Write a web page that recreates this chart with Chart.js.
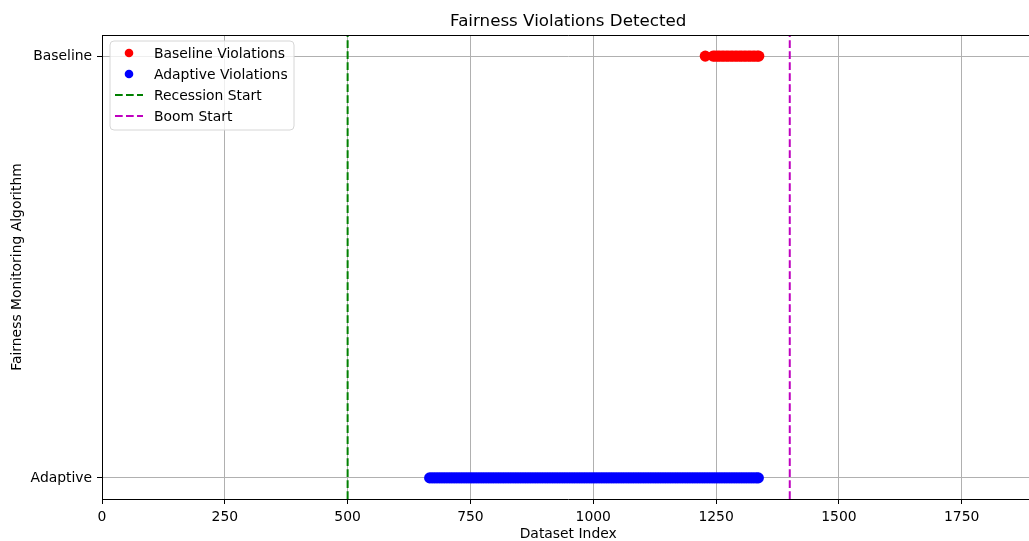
<!DOCTYPE html>
<html><head><meta charset="utf-8">
<script src="https://cdn.jsdelivr.net/npm/chart.js@4/dist/chart.umd.min.js"></script>
<style>html,body{margin:0;padding:0;overflow:hidden;background:#fff}#wrap{width:1040px;height:541px}</style>
</head><body><div id="wrap"><canvas id="c"></canvas></div>
<script>
const chartTitle = 'Fairness Violations Detected';
const xTitle = 'Dataset Index';
const yTitle = 'Fairness Monitoring Algorithm';
const yCategories = ['Adaptive', 'Baseline'];
const xTicks = [0, 250, 500, 750, 1000, 1250, 1500, 1750];
const baselineViolations = [1228,1244,1248,1253,1257,1262,1266,1271,1275,1280,1284,1289,1293,1298,1302,1307,1311,1316,1320,1325,1329,1334,1337];
const adaptiveViolations = [667,672,677,682,687,692,697,702,707,712,717,722,727,732,737,742,747,752,757,762,767,772,777,782,787,792,797,802,807,812,817,822,827,832,837,842,847,852,857,862,867,872,877,882,887,892,897,902,907,912,917,922,927,932,937,942,947,952,957,962,967,972,977,982,987,992,997,1002,1007,1012,1017,1022,1027,1032,1037,1042,1047,1052,1057,1062,1067,1072,1077,1082,1087,1092,1097,1102,1107,1112,1117,1122,1127,1132,1137,1142,1147,1152,1157,1162,1167,1172,1177,1182,1187,1192,1197,1202,1207,1212,1217,1222,1227,1232,1237,1242,1247,1252,1257,1262,1267,1272,1277,1282,1287,1292,1297,1302,1307,1312,1317,1322,1327,1332,1336];
const recessionStart = 500;
const boomStart = 1400;
const seriesLabels = ['Baseline Violations', 'Adaptive Violations', 'Recession Start', 'Boom Start'];

const FONT = 'DejaVu Sans';
const yMin = -0.05, yMax = 1.05;
const DASH = [7.7, 3.3];

const datasets = [
  {label: seriesLabels[0], data: baselineViolations.map(x => ({x, y: 1})), backgroundColor: '#ff0000', borderWidth: 0, pointRadius: 5.6, pointHoverRadius: 5.6, _kind: 'point'},
  {label: seriesLabels[1], data: adaptiveViolations.map(x => ({x, y: 0})), backgroundColor: '#0000ff', borderWidth: 0, pointRadius: 5.6, pointHoverRadius: 5.6, _kind: 'point'},
  {label: seriesLabels[2], data: [{x: recessionStart, y: yMin}, {x: recessionStart, y: yMax}], showLine: true, borderColor: '#008000', borderWidth: 2, borderDash: DASH, pointRadius: 0, _kind: 'line'},
  {label: seriesLabels[3], data: [{x: boomStart, y: yMin}, {x: boomStart, y: yMax}], showLine: true, borderColor: '#bf00bf', borderWidth: 2, borderDash: DASH, pointRadius: 0, _kind: 'line'}
];

const decor = {
  id: 'decor',
  afterDraw(chart) {
    const {ctx, chartArea: a} = chart;
    ctx.save();
    // top spine
    ctx.strokeStyle = '#000'; ctx.lineWidth = 1;
    ctx.beginPath(); ctx.moveTo(a.left, a.top + 0.5); ctx.lineTo(a.right, a.top + 0.5); ctx.stroke();
    // title
    ctx.fillStyle = '#000';
    ctx.font = '16.7px "' + FONT + '"';
    ctx.textAlign = 'center'; ctx.textBaseline = 'alphabetic';
    ctx.fillText(chartTitle, (a.left + a.right) / 2, 26);
    // legend
    const bx = 110, by = 41, bw = 184, bh = 89, r = 4;
    ctx.beginPath();
    ctx.moveTo(bx + r, by); ctx.lineTo(bx + bw - r, by); ctx.quadraticCurveTo(bx + bw, by, bx + bw, by + r);
    ctx.lineTo(bx + bw, by + bh - r); ctx.quadraticCurveTo(bx + bw, by + bh, bx + bw - r, by + bh);
    ctx.lineTo(bx + r, by + bh); ctx.quadraticCurveTo(bx, by + bh, bx, by + bh - r);
    ctx.lineTo(bx, by + r); ctx.quadraticCurveTo(bx, by, bx + r, by);
    ctx.closePath();
    ctx.fillStyle = 'rgba(255,255,255,0.8)'; ctx.fill();
    ctx.strokeStyle = '#d6d6d6'; ctx.lineWidth = 1; ctx.stroke();
    ctx.font = '13.9px "' + FONT + '"';
    ctx.textAlign = 'left'; ctx.textBaseline = 'alphabetic';
    chart.data.datasets.forEach((ds, i) => {
      const yy = 53 + i * 21;
      if (ds._kind === 'point') {
        ctx.fillStyle = ds.backgroundColor;
        ctx.beginPath(); ctx.arc(129, yy, 4.3, 0, Math.PI * 2); ctx.fill();
      } else {
        ctx.strokeStyle = ds.borderColor; ctx.lineWidth = 2; ctx.setLineDash(DASH);
        ctx.beginPath(); ctx.moveTo(115, yy); ctx.lineTo(143, yy); ctx.stroke();
        ctx.setLineDash([]);
      }
      ctx.fillStyle = '#000';
      ctx.fillText(ds.label, 154, yy + 5);
    });
    ctx.restore();
  }
};

new Chart(document.getElementById('c'), {
  type: 'scatter',
  data: {datasets},
  options: {
    responsive: true, maintainAspectRatio: false, animation: false,
    layout: {padding: {top: 35, right: 4, bottom: 0, left: 0}},
    plugins: {legend: {display: false}, title: {display: false}, tooltip: {enabled: false}},
    scales: {
      x: {
        type: 'linear', min: 0, max: 1898,
        afterFit: s => { s.height = 42; },
        afterBuildTicks: s => { s.ticks = xTicks.map(v => ({value: v})); },
        ticks: {includeBounds: false, padding: 4.9, color: '#000', font: {family: FONT, size: 13.9}, maxRotation: 0, autoSkip: false, callback: v => String(v)},
        grid: {color: '#b0b0b0', lineWidth: 1, tickLength: 5, tickColor: '#000'},
        border: {color: '#000', width: 1},
        title: {display: true, text: xTitle, color: '#000', font: {family: FONT, size: 13.9, lineHeight: 1}, padding: {top: 0, bottom: 0}}
      },
      y: {
        type: 'linear', min: yMin, max: yMax,
        afterFit: s => { s.width = 102; },
        afterBuildTicks: s => { s.ticks = yCategories.map((c, i) => ({value: i})); },
        ticks: {padding: 4.9, color: '#000', font: {family: FONT, size: 13.9}, callback: v => yCategories[v] ?? ''},
        grid: {color: '#b0b0b0', lineWidth: 1, tickLength: 5, tickColor: '#000'},
        border: {color: '#000', width: 1},
        title: {display: true, text: yTitle, color: '#000', font: {family: FONT, size: 13.9, lineHeight: 1}, padding: {top: 10, bottom: 0}}
      }
    }
  },
  plugins: [decor]
});
</script></body></html>
